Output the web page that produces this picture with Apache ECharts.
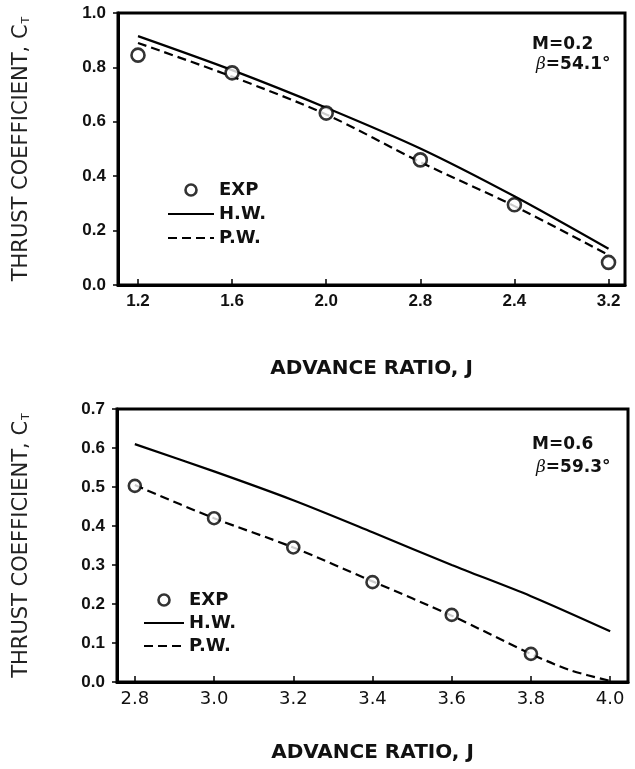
<!DOCTYPE html>
<html>
<head>
<meta charset="utf-8">
<script src="https://cdn.jsdelivr.net/npm/echarts@6/dist/echarts.min.js"></script>
<style>
  html, body { margin: 0; padding: 0; background: #fff; }
  #chart { width: 635px; height: 769px; }
</style>
</head>
<body>
<div id="chart"></div>
<script>
// top panel: M=0.2
var xTicksTop = [1.2, 1.6, 2.0, 2.4, 2.8, 3.2];
var xTickLabelsTop = ['1.2', '1.6', '2.0', '2.8', '2.4', '3.2']; // as printed
var expTop = [[1.2, 0.845], [1.6, 0.78], [2.0, 0.632], [2.4, 0.46], [2.8, 0.295], [3.2, 0.083]];
var hwTop = [[1.2, 0.915], [1.6, 0.79], [2.0, 0.652], [2.4, 0.502], [2.8, 0.326], [3.2, 0.133]];
var pwTop = [[1.2, 0.89], [1.6, 0.766], [2.0, 0.627], [2.4, 0.452], [2.8, 0.29], [3.2, 0.11]];

// bottom panel: M=0.6
var xTicksBot = [2.8, 3.0, 3.2, 3.4, 3.6, 3.8, 4.0];
var expBot = [[2.8, 0.503], [3.0, 0.42], [3.2, 0.345], [3.4, 0.256], [3.6, 0.172], [3.8, 0.072]];
var hwBot = [[2.8, 0.61], [3.0, 0.54], [3.2, 0.466], [3.4, 0.384], [3.6, 0.3], [3.8, 0.22], [4.0, 0.13]];
var pwBot = [[2.8, 0.505], [3.0, 0.42], [3.2, 0.345], [3.4, 0.258], [3.6, 0.17], [3.8, 0.072], [3.9, 0.03], [4.0, 0.003]];

var legendNames = ['EXP', 'H.W.', 'P.W.'];

var chart = echarts.init(document.getElementById('chart'));

var yName = 'THRUST COEFFICIENT, C{sub|T}';
var yNameStyle = {
  fontFamily: 'DejaVu Sans', fontSize: 21, color: '#222',
  rich: { sub: { fontFamily: 'DejaVu Sans', fontSize: 11, color: '#222', padding: [9, 0, 0, 1] } }
};

function tickLabel(ticks, labels) {
  return function (v) {
    for (var i = 0; i < ticks.length; i++) {
      if (Math.abs(ticks[i] - v) < 1e-6) return labels[i];
    }
    return '';
  };
}

var circleStyle = { color: '#fff', borderColor: '#000', borderWidth: 2.6 };

// lines show only their stroke in the legend
function legendData() {
  return legendNames.map(function (n) {
    return n === 'EXP' ? { name: n, itemStyle: circleStyle } : { name: n, itemStyle: { opacity: 0 } };
  });
}

var legendText = { fontFamily: 'DejaVu Sans', fontWeight: 'bold', fontSize: 18, color: '#111' };

var option = {
  animation: false,
  grid: [
    { left: 118, top: 13, width: 507, height: 272, show: true, borderColor: '#000', borderWidth: 3, outerBoundsMode: 'none' },
    { left: 117, top: 409, width: 511, height: 273, show: true, borderColor: '#000', borderWidth: 3, outerBoundsMode: 'none' }
  ],
  legend: [
    { orient: 'vertical', left: 162, top: 176, itemWidth: 46, itemHeight: 11, itemGap: 6, data: legendData(), textStyle: legendText },
    { orient: 'vertical', left: 138, top: 586, itemWidth: 40, itemHeight: 11, itemGap: 5, data: legendData(), textStyle: legendText }
  ],
  xAxis: [
    {
      gridIndex: 0, type: 'value', min: 1.115, max: 3.27,
      name: 'ADVANCE RATIO, J', nameLocation: 'middle', nameGap: 74,
      nameTextStyle: { fontFamily: 'DejaVu Sans', fontWeight: 'bold', fontSize: 20, color: '#111' },
      axisLine: { lineStyle: { color: '#000', width: 3 } },
      axisTick: { inside: true, length: 6, customValues: xTicksTop, lineStyle: { color: '#000', width: 1.5 } },
      axisLabel: {
        customValues: xTicksTop, margin: 8, formatter: tickLabel(xTicksTop, xTickLabelsTop),
        fontFamily: 'Liberation Sans', fontWeight: 'bold', fontSize: 17, color: '#111'
      },
      splitLine: { show: false }
    },
    {
      gridIndex: 1, type: 'value', min: 2.755, max: 4.045,
      name: 'ADVANCE RATIO, J', nameLocation: 'middle', nameGap: 61,
      nameTextStyle: { fontFamily: 'DejaVu Sans', fontWeight: 'bold', fontSize: 20, color: '#111' },
      axisLine: { lineStyle: { color: '#000', width: 3 } },
      axisTick: { inside: true, length: 6, customValues: xTicksBot, lineStyle: { color: '#000', width: 1.5 } },
      axisLabel: {
        customValues: xTicksBot, margin: 8, formatter: function (v) { return v.toFixed(1); },
        fontFamily: 'DejaVu Sans', fontSize: 18, color: '#111'
      },
      splitLine: { show: false }
    }
  ],
  yAxis: [
    {
      gridIndex: 0, type: 'value', min: 0, max: 1, interval: 0.2,
      name: yName, nameLocation: 'middle', nameGap: 86, nameTextStyle: yNameStyle,
      axisLine: { lineStyle: { color: '#000', width: 3 } },
      axisTick: { show: true, length: 5, lineStyle: { color: '#000', width: 1.5 } },
      axisLabel: {
        margin: 12, formatter: function (v) { return v.toFixed(1); },
        fontFamily: 'Liberation Sans', fontWeight: 'bold', fontSize: 17, color: '#111'
      },
      splitLine: { show: false }
    },
    {
      gridIndex: 1, type: 'value', min: 0, max: 0.7, interval: 0.1,
      name: yName, nameLocation: 'middle', nameGap: 85, nameTextStyle: yNameStyle,
      axisLine: { lineStyle: { color: '#000', width: 3 } },
      axisTick: { show: true, length: 5, lineStyle: { color: '#000', width: 1.5 } },
      axisLabel: {
        margin: 12, formatter: function (v) { return v.toFixed(1); },
        fontFamily: 'Liberation Sans', fontWeight: 'bold', fontSize: 17, color: '#111'
      },
      splitLine: { show: false }
    }
  ],
  graphic: [
    { type: 'text', left: 532, top: 36, style: { text: 'M=0.2', font: 'bold 17px "DejaVu Sans"', fill: '#111' } },
    { type: 'text', left: 536, top: 56, style: { text: '{i|β}=54.1°', font: 'bold 17px "DejaVu Sans"', fill: '#111',
      rich: { i: { fontFamily: 'DejaVu Serif', fontStyle: 'italic', fontSize: 17, fill: '#111' } } } },
    { type: 'text', left: 532, top: 436, style: { text: 'M=0.6', font: 'bold 17px "DejaVu Sans"', fill: '#111' } },
    { type: 'text', left: 536, top: 459, style: { text: '{i|β}=59.3°', font: 'bold 17px "DejaVu Sans"', fill: '#111',
      rich: { i: { fontFamily: 'DejaVu Serif', fontStyle: 'italic', fontSize: 17, fill: '#111' } } } }
  ],
  series: [
    { name: 'H.W.', type: 'line', xAxisIndex: 0, yAxisIndex: 0, data: hwTop, smooth: 0.3, symbol: 'none',
      lineStyle: { color: '#000', width: 2.2 }, itemStyle: { color: '#000' } },
    { name: 'P.W.', type: 'line', xAxisIndex: 0, yAxisIndex: 0, data: pwTop, smooth: 0.3, symbol: 'none',
      lineStyle: { color: '#000', width: 2.2, type: [9, 5] }, itemStyle: { color: '#000' } },
    { name: 'EXP', type: 'scatter', xAxisIndex: 0, yAxisIndex: 0, data: expTop, symbol: 'circle', symbolSize: 13, z: 5,
      itemStyle: circleStyle },
    { name: 'H.W.', type: 'line', xAxisIndex: 1, yAxisIndex: 1, data: hwBot, smooth: 0.3, symbol: 'none',
      lineStyle: { color: '#000', width: 2.2 }, itemStyle: { color: '#000' } },
    { name: 'P.W.', type: 'line', xAxisIndex: 1, yAxisIndex: 1, data: pwBot, smooth: 0.3, symbol: 'none',
      lineStyle: { color: '#000', width: 2.2, type: [9, 5] }, itemStyle: { color: '#000' } },
    { name: 'EXP', type: 'scatter', xAxisIndex: 1, yAxisIndex: 1, data: expBot, symbol: 'circle', symbolSize: 12, z: 5,
      itemStyle: circleStyle }
  ]
};

chart.setOption(option);
</script>
</body>
</html>
